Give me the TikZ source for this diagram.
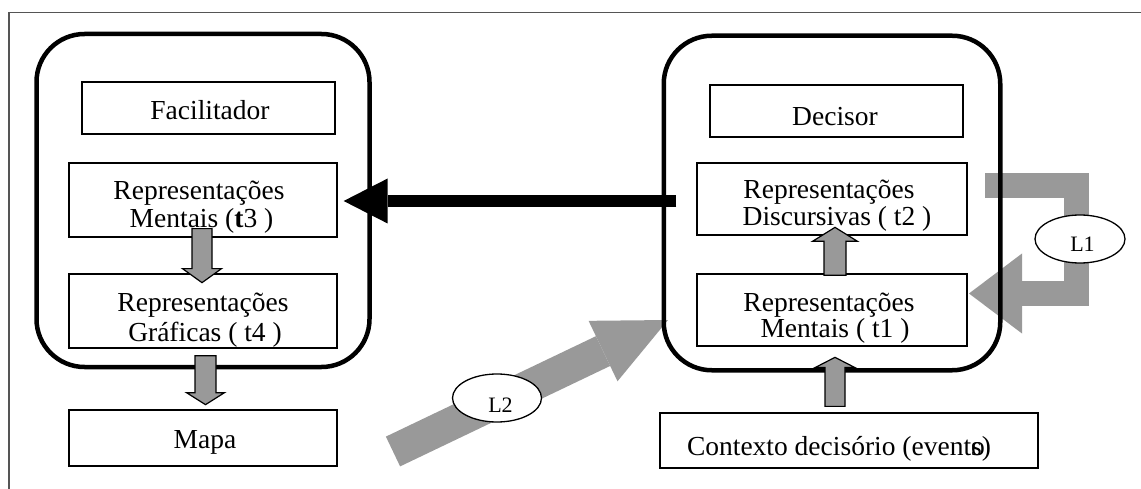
\documentclass[tikz,border=0pt]{standalone}
\usepackage{fontspec}
\setmainfont{Liberation Serif}
\usetikzlibrary{arrows.meta,shapes.geometric,calc}
\definecolor{arrowgray}{HTML}{999999}
\definecolor{framegray}{HTML}{555555}

\begin{document}
\begin{tikzpicture}[x=1pt,y=-1pt,
  frameline/.style={framegray, line width=1.5pt},
  container/.style={draw, line width=4.5pt, rounded corners=48pt, inner sep=0pt},
  box/.style={draw, fill=white, line width=1.3pt, inner sep=0pt},
  txt/.style={font=\fontsize{27.5}{30}\selectfont, inner sep=0pt, anchor=base},
  looptxt/.style={font=\fontsize{22}{24}\selectfont, inner sep=0pt, anchor=base},
  loopmark/.style={draw, ellipse, fill=white, line width=1.3pt, inner sep=0pt},
  blockline/.style={draw=black, fill=arrowgray, line width=1.2pt, line join=miter},
  bigarrow/.style={line width=12pt, -{Triangle[length=44pt,width=45pt,line width=0pt]}},
  loopone/.style={arrowgray, line width=25pt, line join=miter,
    -{Triangle[length=53pt,width=80pt,line width=0pt]}},
  looptwo/.style={arrowgray, line width=33pt,
    -{Triangle[length=72pt,width=67pt,line width=0pt]}},
  pics/blockarrow/.style n args={4}{code={
    \filldraw[blockline] (-#2,0) -- (-#2,#1-#4) -- (-#3,#1-#4) -- (0,#1)
      -- (#3,#1-#4) -- (#2,#1-#4) -- (#2,0) -- cycle;
  }},
]
\useasboundingbox (0,0) rectangle (1141,489);

% outer frame (top and left edges)
\draw[frameline] (9,489) -- (9,12.5) -- (1141,12.5);

% named anchors for the loop arrows
\coordinate (l1start) at (985,185.5);
\coordinate (l1col) at (1076.5,240);
\coordinate (l1tip) at (969,293.5);
\coordinate (l2tail) at (393,451.5);
\coordinate (l2tip) at (668,320);

% loop L1 and L2 (grey wide arrows, underneath the frames)
\draw[loopone] (l1start) -- (l1start -| l1col) -- (l1tip -| l1col) -- (l1tip);
\draw[looptwo] (l2tail) -- (l2tip);

% the two actors
\node[container, minimum width=333pt, minimum height=333pt] (lc) at (203,200.5) {};
\node[container, minimum width=336.5pt, minimum height=334.5pt] (rc) at (832,203) {};

% boxes of the facilitator side
\node[box, minimum width=253pt, minimum height=52pt] (fac) at (208.5,108) {};
\node[box, minimum width=268pt, minimum height=74pt] (t3) at (203,200) {};
\node[box, minimum width=268pt, minimum height=74pt] (t4) at (203,311) {};
\node[box, minimum width=268pt, minimum height=56pt] (mapa) at (203,438) {};

% boxes of the decision-maker side
\node[box, minimum width=253pt, minimum height=52pt] (dec) at (836.5,111) {};
\node[box, minimum width=270pt, minimum height=72pt] (t2) at (832,199) {};
\node[box, minimum width=270pt, minimum height=72pt] (t1) at (832,310) {};
\node[box, minimum width=378pt, minimum height=55pt] (ctx) at (849,440.5) {};

% texts
\node[txt] (facA) at (210,120) {Facilitador};
\node[txt] (t3A) at (199,200) {Representações};
\node[txt] (t3B) at (201.5,228) {Mentais (\textbf{t}3 )};
\node[txt] (t4A) at (203,311) {Representações};
\node[txt] (t4B) at (205,341) {Gráficas ( t4 )};
\node[txt] (mapaA) at (205,448) {Mapa};
\node[txt] (decA) at (835,126) {Decisor};
\node[txt] (t2A) at (829,199) {Representações};
\node[txt] (t2B) at (837,226) {Discursivas ( t2 )};
\node[txt] (t1A) at (829,311) {Representações};
\node[txt] (t1B) at (835,337) {Mentais ( t1 )};
\node[txt] (ctxA) at (839,455) {Contexto decisório (event\rlap{o}s)};

% outlined block arrows between the boxes
\pic at ($(t3.south)+(-1,-9)$) {blockarrow={54}{10}{19.5}{14}};
\pic at ($(t4.south)+(2.5,7)$) {blockarrow={49}{10.5}{19}{12}};
\pic[rotate=180] at ($(t1.north)+(3,2)$) {blockarrow={48}{11}{22.5}{14}};
\pic[rotate=180] at ($(ctx.north)+(-14,-6)$) {blockarrow={49}{10}{19.5}{10}};

% discursive representations passed to the facilitator
\draw[bigarrow] ($(t2.west)+(-20,2)$) -- ($(t3.east)+(6,1)$);

% loop labels
\node[loopmark, minimum width=90pt, minimum height=48pt] (l1mark) at (1080,239) {};
\node[looptxt] (l1lab) at (1082.5,251.5) {L1};
\node[loopmark, minimum width=89pt, minimum height=48pt] (l2mark) at (497,398) {};
\node[looptxt] (l2lab) at (500.5,412.5) {L2};
\end{tikzpicture}
\end{document}
